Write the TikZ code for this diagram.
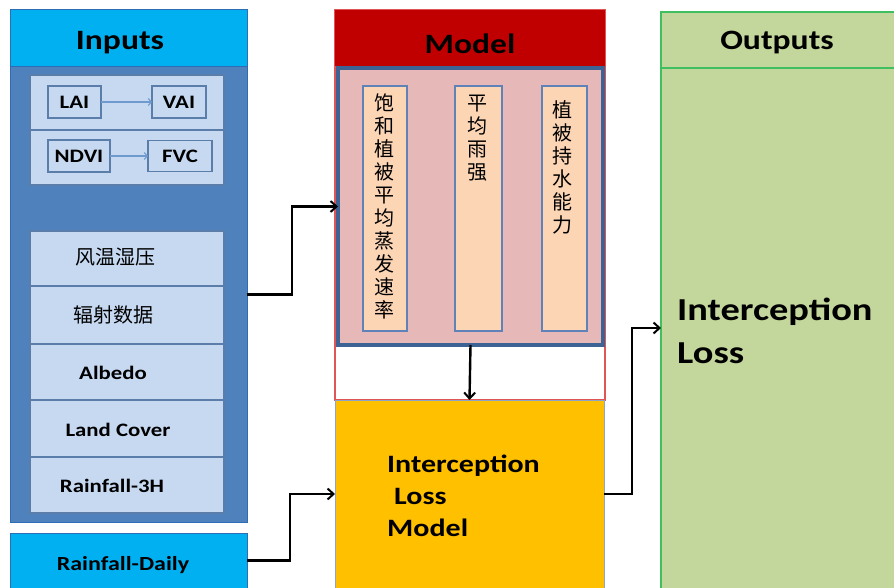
\documentclass[tikz,border=0pt]{standalone}
\usepackage{fontspec}
\usetikzlibrary{arrows.meta,calc}
\newfontfamily\cb{Carlito}[FakeStretch=1.2]
\newfontfamily\cjk{Noto Sans CJK SC}
\definecolor{cyanh}{HTML}{00B0F0}
\definecolor{bodyblue}{HTML}{4F81BD}
\definecolor{edgeblue}{HTML}{2E6DB4}
\definecolor{lightbox}{HTML}{C6D9F1}
\definecolor{lightedge}{HTML}{5A7DAA}
\definecolor{redh}{HTML}{C00000}
\definecolor{redline}{HTML}{E05555}
\definecolor{pinkf}{HTML}{E6B9B8}
\definecolor{pinkedge}{HTML}{3C6393}
\definecolor{peach}{HTML}{FCD5B5}
\definecolor{peachedge}{HTML}{5F83B8}
\definecolor{yel}{HTML}{FFC000}
\definecolor{yeledge}{HTML}{8DA6C8}
\definecolor{grn}{HTML}{C3D69B}
\definecolor{grnedge}{HTML}{3FBF60}
\definecolor{thinarrow}{HTML}{6F9AD0}
\tikzset{
  box/.style={rectangle, inner sep=0pt, outer sep=0pt},
  head/.style={font=\cb\bfseries\fontsize{28}{30}\selectfont, text=black},
  small/.style={font=\cb\bfseries\fontsize{19}{21}\selectfont, text=black},
  zh/.style={font=\cjk\fontsize{20}{22}\selectfont, text=black},
  vzh/.style={font=\cjk\fontsize{20}{23}\selectfont, text=black, align=center, inner sep=0pt},
  lightbx/.style={box, fill=lightbox, draw=lightedge, line width=1.2pt},
  flow/.style={draw=black, line width=2.4pt, -{Straight Barb[length=6pt,width=11pt,line width=2pt]}},
  thin/.style={draw=thinarrow, line width=1.1pt, -{Straight Barb[length=3pt,width=7pt]}},
}
\begin{document}
\begin{tikzpicture}[x=1pt, y=-1pt]
\useasboundingbox (0,0) rectangle (894,588);
% ---------- Inputs column ----------
\node[box, fill=cyanh, draw=edgeblue, line width=1pt, minimum width=237pt, minimum height=57pt] (inhead) at (128.5,38.5) {};
\node[head] (inheadtxt) at (120,43) {Inputs};
\node[box, fill=bodyblue, draw=edgeblue, line width=1pt, minimum width=237pt, minimum height=455pt] (inbody) at (128.5,294.5) {};
\node[lightbx, minimum width=194pt, minimum height=55pt] (g1) at (127,102.5) {};
\node[lightbx, minimum width=194pt, minimum height=55pt] (g2) at (127,157.5) {};
\node[lightbx, minimum width=53pt, minimum height=32pt, small] (lai) at (74.5,102) {LAI};
\node[lightbx, minimum width=54pt, minimum height=32pt, small] (vai) at (179,102) {VAI};
\node[lightbx, minimum width=62pt, minimum height=32pt, small] (ndvi) at (79,156) {NDVI};
\node[lightbx, minimum width=64pt, minimum height=31pt, small] (fvc) at (180,156) {FVC};
\draw[thin] (lai) -- (vai);
\draw[thin] (ndvi) -- (fvc);
\node[lightbx, minimum width=194pt, minimum height=55pt] (b1) at (127,258.5) {};
\node[lightbx, minimum width=194pt, minimum height=58pt] (b2) at (127,315) {};
\node[lightbx, minimum width=194pt, minimum height=56pt] (b3) at (127,372) {};
\node[lightbx, minimum width=194pt, minimum height=57pt] (b4) at (127,428.5) {};
\node[lightbx, minimum width=194pt, minimum height=56pt] (b5) at (127,485) {};
\node[zh] (b1t) at (115,257) {风温湿压};
\node[zh] (b2t) at (113,315) {辐射数据};
\node[small] (b3t) at (113,373) {Albedo};
\node[small] (b4t) at (118,430) {Land Cover};
\node[small] (b5t) at (112,486) {Rainfall-3H};
\node[box, fill=cyanh, draw=edgeblue, line width=1pt, minimum width=237pt, minimum height=55pt] (rd) at (128.5,560.5) {};
\node[small, font=\cb\bfseries\fontsize{20}{22}\selectfont] (rdt) at (123,565) {Rainfall-Daily};
% ---------- Model column ----------
\draw[redline, line width=1.2pt] (335,10) rectangle (605,400);
\node[box, fill=redh, minimum width=270pt, minimum height=56pt] (mhead) at (470,38) {};
\node[head] (mheadtxt) at (470,44) {Model};
\node[box, fill=pinkf, draw=pinkedge, line width=4pt, minimum width=265pt, minimum height=277pt] (pink) at (470.5,206.5) {};
\node[box, fill=peach, draw=peachedge, line width=1.2pt, minimum width=44pt, minimum height=245pt] (t1) at (385,208.5) {};
\node[box, fill=peach, draw=peachedge, line width=1.2pt, minimum width=47pt, minimum height=245pt] (t2) at (478.5,208.5) {};
\node[box, fill=peach, draw=peachedge, line width=1.2pt, minimum width=45pt, minimum height=245pt] (t3) at (564.5,208.5) {};
\node[vzh] (t1t) at (384,206) {饱\\和\\植\\被\\平\\均\\蒸\\发\\速\\率};
\node[vzh, anchor=north] (t2t) at (477,95) {平\\均\\雨\\强};
\node[vzh, anchor=north] (t3t) at (562,100) {植\\被\\持\\水\\能\\力};
\node[box, fill=yel, draw=yeledge, line width=1pt, minimum width=269pt, minimum height=188pt] (ylw) at (469.5,494) {};
\node[anchor=west, align=left, inner sep=0pt, font=\cb\bfseries\fontsize{25}{32}\selectfont] (ylwt) at (387,496) {Interception\\\hspace*{7pt}Loss\\Model};
% ---------- Outputs column ----------
\node[box, fill=grn, minimum width=233pt, minimum height=576pt] (obg) at (777.5,300) {};
\node[box, minimum width=233pt, minimum height=56pt] (ohead) at (777.5,40) {};
\node[box, minimum width=233pt, minimum height=520pt] (obody) at (777.5,328) {};
\draw[grnedge, line width=1.4pt] (obg.south west) -- (obg.north west) -- (obg.north east);
\draw[grnedge, line width=1.4pt] (ohead.south west) -- (ohead.south east);
\node[head] (oheadtxt) at (777,43) {Outputs};
\node[anchor=west, align=left, inner sep=0pt, font=\cb\bfseries\fontsize{32}{43}\selectfont] (obodyt) at (677,331) {Interception\\Loss};
% ---------- connectors ----------
\draw[flow] (inbody.east) -- ++(45,0) |- (pink.west);
\draw[flow] (rd.east) -- ++(43,0) |- (ylw.west);
\draw[flow] (pink.south) -- (ylw.north);
\draw[flow] (ylw.east) -- ++(28,0) |- (obody.west);
\end{tikzpicture}
\end{document}
